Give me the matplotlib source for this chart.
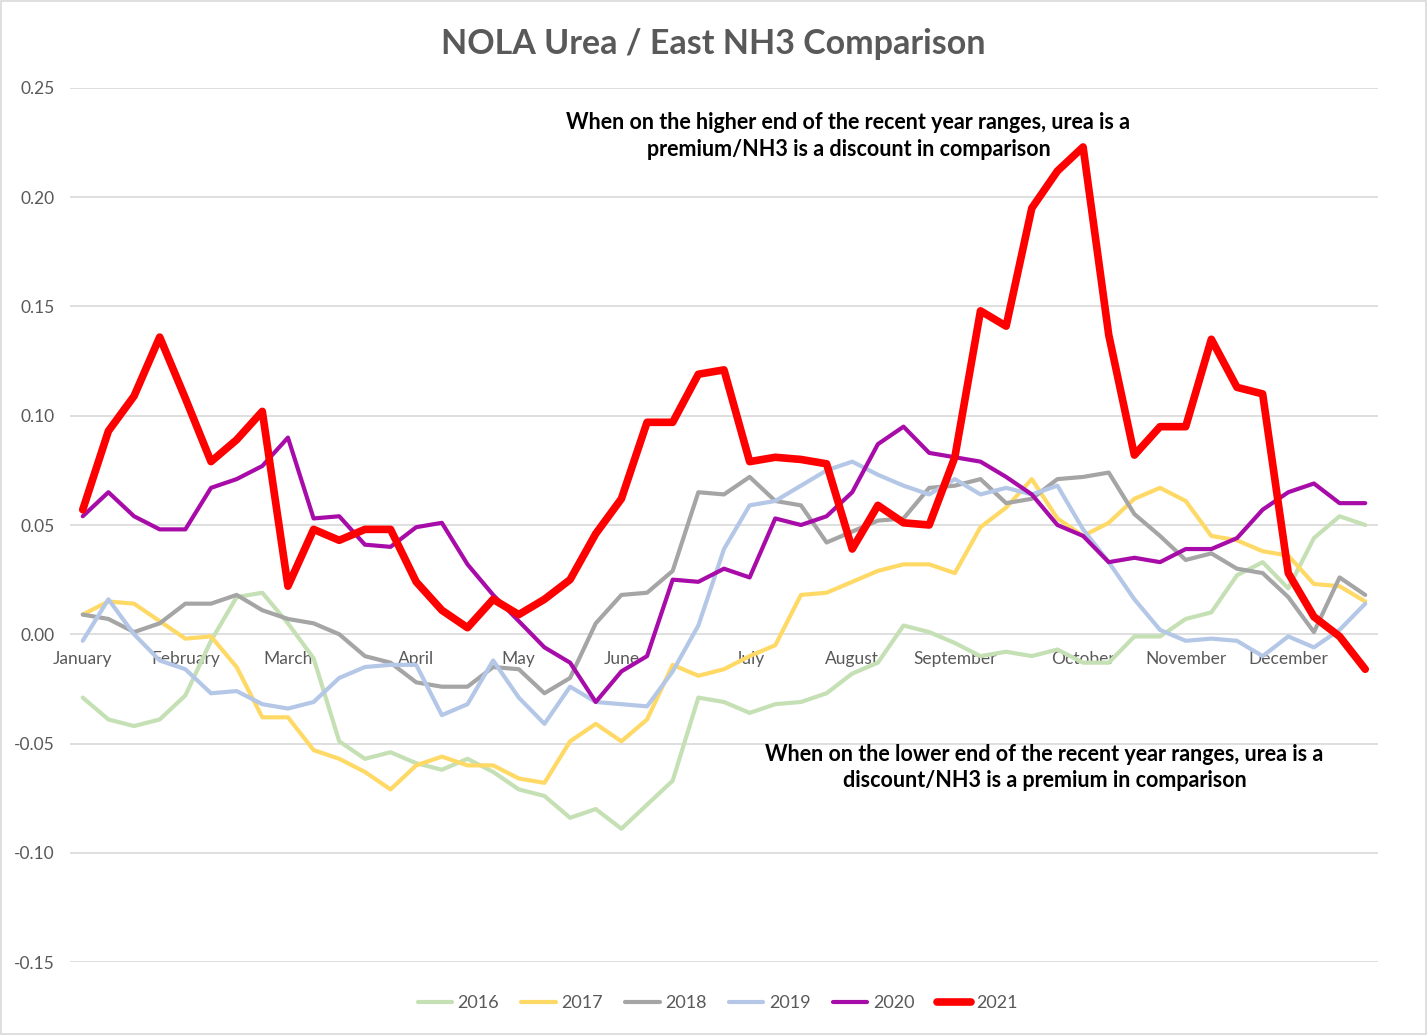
import matplotlib.pyplot as plt
import matplotlib.patches as patches

# weekly NOLA urea / East NH3 spread, 51 weeks per year
y2016 = [-0.029, -0.039, -0.042, -0.039, -0.028, -0.003, 0.017, 0.019, 0.005, -0.011,
         -0.049, -0.057, -0.054, -0.059, -0.062, -0.057, -0.063, -0.071, -0.074, -0.084,
         -0.080, -0.089, -0.078, -0.067, -0.029, -0.031, -0.036, -0.032, -0.031, -0.027,
         -0.018, -0.013, 0.004, 0.001, -0.004, -0.010, -0.008, -0.010, -0.007, -0.013,
         -0.013, -0.001, -0.001, 0.007, 0.010, 0.027, 0.033, 0.021, 0.044, 0.054, 0.050]
y2017 = [0.009, 0.015, 0.014, 0.006, -0.002, -0.001, -0.015, -0.038, -0.038, -0.053,
         -0.057, -0.063, -0.071, -0.060, -0.056, -0.060, -0.060, -0.066, -0.068, -0.049,
         -0.041, -0.049, -0.039, -0.014, -0.019, -0.016, -0.010, -0.005, 0.018, 0.019,
         0.024, 0.029, 0.032, 0.032, 0.028, 0.049, 0.058, 0.071, 0.053, 0.045,
         0.051, 0.062, 0.067, 0.061, 0.045, 0.043, 0.038, 0.036, 0.023, 0.022, 0.015]
y2018 = [0.009, 0.007, 0.001, 0.005, 0.014, 0.014, 0.018, 0.011, 0.007, 0.005,
         0.000, -0.010, -0.013, -0.022, -0.024, -0.024, -0.015, -0.016, -0.027, -0.020,
         0.005, 0.018, 0.019, 0.029, 0.065, 0.064, 0.072, 0.061, 0.059, 0.042,
         0.047, 0.052, 0.053, 0.067, 0.068, 0.071, 0.060, 0.062, 0.071, 0.072,
         0.074, 0.055, 0.045, 0.034, 0.037, 0.030, 0.028, 0.017, 0.001, 0.026, 0.018]
y2019 = [-0.003, 0.016, 0.000, -0.012, -0.016, -0.027, -0.026, -0.032, -0.034, -0.031,
         -0.020, -0.015, -0.014, -0.014, -0.037, -0.032, -0.012, -0.029, -0.041, -0.024,
         -0.031, -0.032, -0.033, -0.017, 0.004, 0.039, 0.059, 0.061, 0.068, 0.075,
         0.079, 0.073, 0.068, 0.064, 0.071, 0.064, 0.067, 0.064, 0.068, 0.048,
         0.033, 0.016, 0.002, -0.003, -0.002, -0.003, -0.010, -0.001, -0.006, 0.002, 0.014]
y2020 = [0.054, 0.065, 0.054, 0.048, 0.048, 0.067, 0.071, 0.077, 0.090, 0.053,
         0.054, 0.041, 0.040, 0.049, 0.051, 0.032, 0.018, 0.006, -0.006, -0.013,
         -0.031, -0.017, -0.010, 0.025, 0.024, 0.030, 0.026, 0.053, 0.050, 0.054,
         0.065, 0.087, 0.095, 0.083, 0.081, 0.079, 0.072, 0.064, 0.050, 0.045,
         0.033, 0.035, 0.033, 0.039, 0.039, 0.044, 0.057, 0.065, 0.069, 0.060, 0.060]
y2021 = [0.057, 0.093, 0.109, 0.136, 0.108, 0.079, 0.089, 0.102, 0.022, 0.048,
         0.043, 0.048, 0.048, 0.024, 0.011, 0.003, 0.016, 0.009, 0.016, 0.025,
         0.046, 0.062, 0.097, 0.097, 0.119, 0.121, 0.079, 0.081, 0.080, 0.078,
         0.039, 0.059, 0.051, 0.050, 0.081, 0.148, 0.141, 0.195, 0.212, 0.223,
         0.137, 0.082, 0.095, 0.095, 0.135, 0.113, 0.110, 0.028, 0.008, -0.001, -0.016]

years = ["2016", "2017", "2018", "2019", "2020", "2021"]
series = [y2016, y2017, y2018, y2019, y2020, y2021]
colors = ["#C5E0B4", "#FFD966", "#A5A5A5", "#B4C7E7", "#A80CA8", "#FF0000"]
widths = [3.0, 3.0, 3.0, 3.0, 3.0, 5.5]

months = ["January", "February", "March", "April", "May", "June", "July",
          "August", "September", "October", "November", "December"]
month_week = [0, 4, 8, 13, 17, 21, 26, 30, 34, 39, 43, 47]

plt.rcParams['font.family'] = ['Lato', 'DejaVu Sans']

fig = plt.figure(figsize=(14.27, 10.35), dpi=100)
ax = fig.add_axes([0.049, 0.0705, 0.9167, 0.8445])

weeks = list(range(len(y2021)))
for yr, vals, c, lw in zip(years, series, colors, widths):
    ax.plot(weeks, vals, color=c, lw=lw, label=yr,
            solid_joinstyle='round', solid_capstyle='round')

ax.set_xlim(-0.5, len(weeks) - 0.5)
ax.set_ylim(-0.15, 0.25)
ax.set_yticks([-0.15, -0.10, -0.05, 0.00, 0.05, 0.10, 0.15, 0.20, 0.25])
ax.yaxis.set_major_formatter(plt.FormatStrFormatter('%.2f'))
ax.grid(axis='y', color='#D9D9D9', lw=1.2)
ax.set_axisbelow(True)
for s in ['top', 'right', 'left']:
    ax.spines[s].set_visible(False)
ax.spines['bottom'].set_position(('data', 0))
ax.spines['bottom'].set_visible(False)
ax.set_xticks(month_week)
ax.set_xticklabels(months)
ax.tick_params(axis='x', length=0, pad=12, labelsize=12.5, labelcolor='#595959')
ax.tick_params(axis='y', length=0, pad=11, labelsize=12.5, labelcolor='#595959')

ax.text(29.85, 0.2280, "When on the higher end of the recent year ranges, urea is a\n"
        "premium/NH3 is a discount in comparison",
        ha='center', va='center', fontsize=15.5, fontweight='bold',
        linespacing=1.3)
ax.text(37.5, -0.0611, "When on the lower end of the recent year ranges, urea is a\n"
        "discount/NH3 is a premium in comparison",
        ha='center', va='center', fontsize=15.5, fontweight='bold',
        linespacing=1.3)

fig.suptitle("NOLA Urea / East NH3 Comparison", x=0.5, y=0.973,
             fontsize=24.5, fontweight='bold', color='#595959')

fig.legend(loc='center', bbox_to_anchor=(0.503, 0.031), ncol=6, frameon=False,
           fontsize=13, labelcolor='#595959', handlelength=1.9,
           handletextpad=0.3, columnspacing=1.25)

fig.patches.append(patches.Rectangle((0.001, 0.001), 0.998, 0.998,
                                     transform=fig.transFigure, fill=False,
                                     edgecolor='#D9D9D9', lw=1.2))

fig.savefig("out.png", dpi=100)
